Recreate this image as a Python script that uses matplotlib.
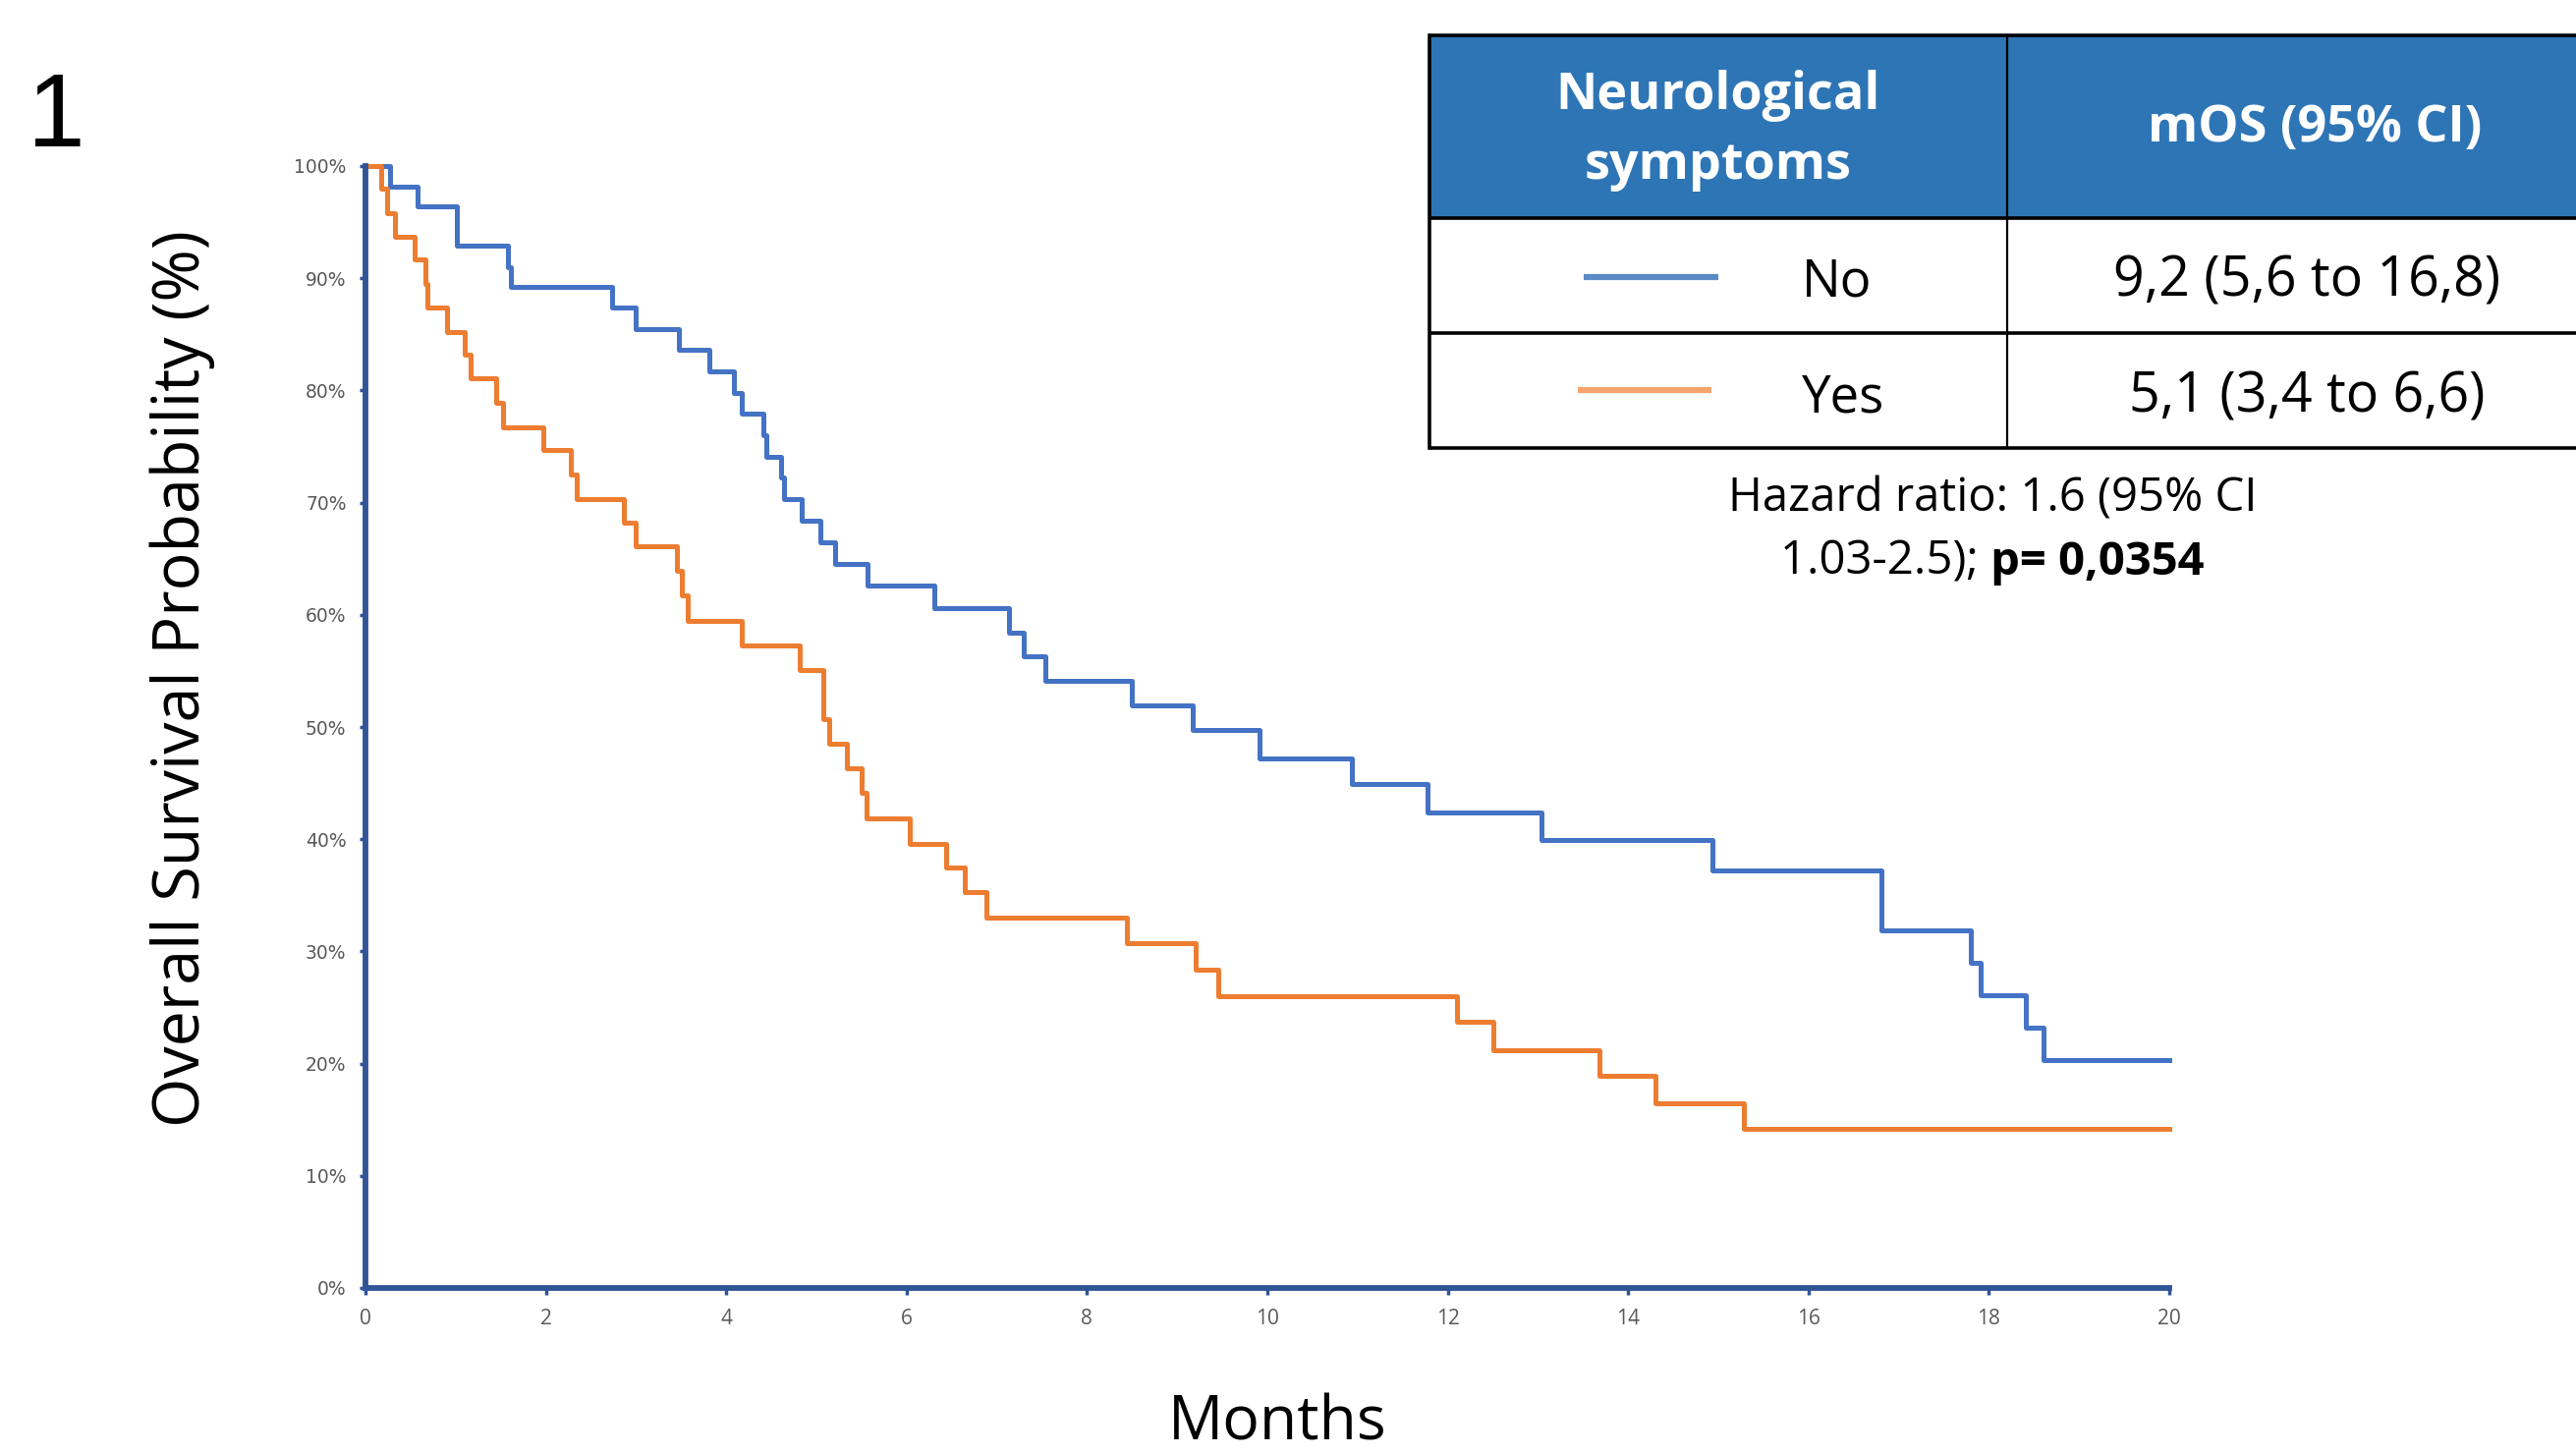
import matplotlib
matplotlib.use("Agg")
import matplotlib.pyplot as plt
from matplotlib.patches import Rectangle
from matplotlib.ticker import FuncFormatter

# Kaplan-Meier steps (months, % surviving)
no_months = [0, 0.27, 0.575, 1.01, 1.58, 1.61, 2.73, 3.0, 3.48, 3.81,
             4.08, 4.17, 4.41, 4.44, 4.61, 4.64, 4.84, 5.04, 5.21, 5.57,
             6.31, 7.13, 7.30, 7.54, 8.50, 9.17, 9.91, 10.94, 11.78, 13.04,
             14.94, 16.81, 17.80, 17.91, 18.41, 18.61, 20]
no_surv = [100, 98.2, 96.4, 92.9, 91.0, 89.2, 87.4, 85.5, 83.6, 81.7,
           79.8, 77.9, 76.0, 74.1, 72.2, 70.3, 68.4, 66.5, 64.5, 62.6,
           60.6, 58.4, 56.3, 54.1, 51.9, 49.7, 47.2, 44.9, 42.4, 39.9,
           37.2, 31.9, 29.0, 26.1, 23.2, 20.3, 20.3]

yes_months = [0, 0.17, 0.24, 0.33, 0.54, 0.66, 0.69, 0.90, 1.10, 1.17,
              1.45, 1.53, 1.97, 2.28, 2.34, 2.87, 3.00, 3.45, 3.51, 3.57,
              4.17, 4.81, 5.08, 5.14, 5.34, 5.50, 5.56, 6.03, 6.44, 6.64,
              6.88, 8.44, 9.20, 9.46, 12.10, 12.51, 13.68, 14.30, 15.28, 20]
yes_surv = [100, 98.0, 95.8, 93.7, 91.7, 89.5, 87.4, 85.2, 83.2, 81.1,
            78.9, 76.7, 74.7, 72.5, 70.3, 68.2, 66.1, 63.9, 61.7, 59.5,
            57.3, 55.1, 50.7, 48.5, 46.3, 44.1, 41.9, 39.6, 37.5, 35.3,
            33.0, 30.7, 28.4, 26.0, 23.7, 21.2, 18.9, 16.5, 14.2, 14.2]

x_ticks = list(range(0, 21, 2))
y_ticks = list(range(0, 101, 10))

groups = ["No", "Yes"]
mos_text = ["9,2 (5,6 to 16,8)", "5,1 (3,4 to 6,6)"]
header = ["Neurological\nsymptoms", "mOS (95% CI)"]
hr_line1 = "Hazard ratio: 1.6 (95% CI"
hr_line2 = "1.03-2.5);"
hr_pval = "p= 0,0354"
panel_tag = "1"

curve_colors = ["#4472C4", "#ED7D31"]
key_colors = ["#5B8AC6", "#F4A46C"]
axis_color = "#2F5597"
header_color = "#2E75B6"

W, H = 2622, 1481
fig = plt.figure(figsize=(W / 100, H / 100), dpi=100)
fig.patch.set_facecolor("white")

# main plot, placed in pixels
ax = fig.add_axes([372 / W, 1 - 1311 / H, (2208 - 372) / W, (1311 - 169) / H])
ax.step(no_months, no_surv, where="post", color=curve_colors[0], lw=3.6, clip_on=False, zorder=3)
ax.step(yes_months, yes_surv, where="post", color=curve_colors[1], lw=3.6, clip_on=False, zorder=4)
ax.set_xlim(0, 20)
ax.set_ylim(0, 100)
ax.set_xticks(x_ticks)
ax.set_yticks(y_ticks)
ax.yaxis.set_major_formatter(FuncFormatter(lambda v, p: "%d%%" % v))
for s in ["top", "right"]:
    ax.spines[s].set_visible(False)
for s in ["left", "bottom"]:
    ax.spines[s].set_color(axis_color)
    ax.spines[s].set_linewidth(4.2)
    ax.spines[s].set_zorder(5)
ax.tick_params(axis="x", direction="out", length=5, width=2.5, color=axis_color,
               labelsize=15, labelcolor="#595959", pad=10)
ax.tick_params(axis="y", direction="out", length=4, width=2.5, color=axis_color,
               labelsize=13.5, labelcolor="#595959", pad=10)
for lab in ax.get_xticklabels():
    lab.set_family("Open Sans")
for lab in ax.get_yticklabels():
    lab.set_family("DejaVu Sans")

# overlay in pixel coordinates for labels and the table
ov = fig.add_axes([0, 0, 1, 1], zorder=10)
ov.set_xlim(0, W)
ov.set_ylim(H, 0)
ov.axis("off")

ov.text(57, 149, panel_tag, fontsize=76, family="Liberation Sans", ha="center", va="baseline")
ov.text(186, 691, "Overall Survival Probability (%)", fontsize=46.5, family="Open Sans",
        rotation=90, ha="center", va="center")
ov.text(1300, 1466, "Months", fontsize=45, family="Open Sans", ha="center", va="baseline")

# table
t_left, t_right, t_div = 1455, 2640, 2043
rows_y = [36, 222, 339, 456]
ov.add_patch(Rectangle((t_left, rows_y[0]), t_right - t_left, rows_y[1] - rows_y[0],
                       facecolor=header_color, edgecolor="none"))
for yy in rows_y:
    ov.plot([t_left, t_right], [yy, yy], color="black", lw=2.6, solid_capstyle="butt")
ov.plot([t_left, t_left], [rows_y[0], rows_y[-1]], color="black", lw=2.6)
ov.plot([t_div, t_div], [rows_y[0], rows_y[-1]], color="black", lw=1.6)

ov.text(1749, 133, header[0], color="white", fontsize=37.5, fontweight="bold",
        family="Open Sans", ha="center", va="center", linespacing=1.45)
ov.text(2356, 131, header[1], color="white", fontsize=37.5, fontweight="bold",
        family="Open Sans", ha="center", va="center")

key_y = [282, 397]
key_x = [(1612, 1749), (1606, 1742)]
base_y = [302, 419]
for i, g in enumerate(groups):
    ov.plot(key_x[i], [key_y[i], key_y[i]], color=key_colors[i], lw=4.5, solid_capstyle="butt")
    ov.text(1834, base_y[i], g, fontsize=38, family="Open Sans", ha="left", va="baseline")
    ov.text(2348, base_y[i], mos_text[i], fontsize=40, family="Open Sans",
            ha="center", va="baseline")

ov.text(2028, 521, hr_line1, fontsize=34, family="Open Sans", ha="center", va="baseline")
t1 = ov.text(0, 585, hr_line2 + " ", fontsize=34, family="Open Sans", ha="left", va="baseline")
t2 = ov.text(0, 585, hr_pval, fontsize=34, family="Open Sans", fontweight="bold",
             ha="left", va="baseline")
r = fig.canvas.get_renderer()
w1 = t1.get_window_extent(r).width
w2 = t2.get_window_extent(r).width
x0 = 2028 - (w1 + w2) / 2
t1.set_x(x0)
t2.set_x(x0 + w1)

fig.savefig("out.png", dpi=100, facecolor="white")
